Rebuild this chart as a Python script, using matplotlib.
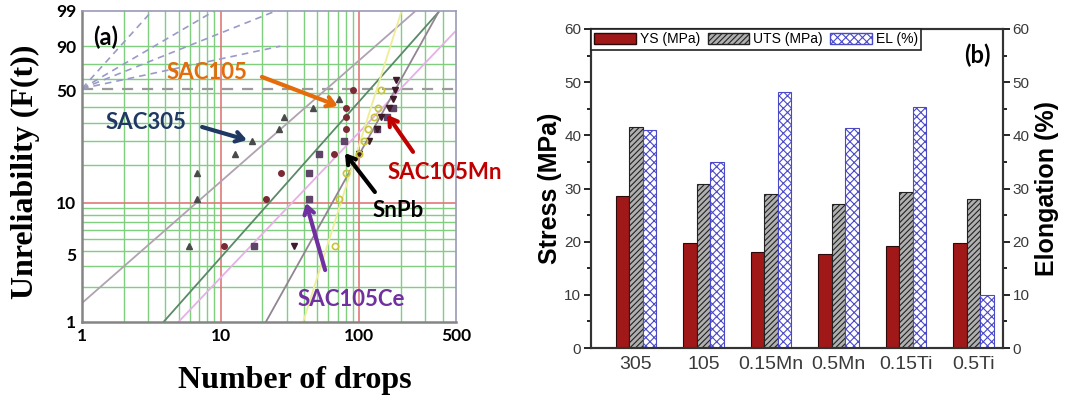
import numpy as np
import matplotlib.pyplot as plt
from matplotlib.patches import Patch

# ---- (a) drop test, Weibull plot ----
sac305_x = [5.9, 6.8, 6.8, 12.8, 16.8, 26.3, 28.6, 46.4, 71.6]
sac305_F = [4.4, 10.7, 17.2, 24.0, 29.8, 36.1, 43.3, 49.3, 55.5]

sac105_x = [10.5, 21.2, 27.2, 65.9, 78, 80, 80, 81, 90]
sac105_F = [4.4, 10.7, 17.2, 24.0, 29.8, 36.1, 43.3, 49.3, 62.2]

sac105ce_x = [17.4, 43.4, 43.4, 51.3, 78, 135, 160, 176]
sac105ce_F = [4.4, 10.7, 17.2, 24.0, 29.8, 36.1, 43.3, 49.3]

sac105mn_x = [33.8, 100, 118, 135, 144, 165, 176, 180, 185]
sac105mn_F = [4.4, 24.0, 29.8, 36.1, 43.3, 49.3, 55.5, 62.2, 69.2]

snpb_x = [67, 72, 80, 100, 109, 116, 128, 137, 144]
snpb_F = [4.4, 10.7, 17.2, 24.0, 29.8, 36.1, 43.3, 49.3, 62.2]

# fitted lines, end points (drops, F%)
fit_lines = {
    'L1': ([1, 250], [1.45, 98.9], '#b0a2b0'),
    'L2': ([3.87, 374], [1.0, 98.9], '#5a8a68'),
    'L3': ([4.96, 488], [1.0, 95.2], '#e6b0e6'),
    'L4': ([21.2, 374], [1.0, 98.9], '#938493'),
    'L5': ([39.4, 201], [1.0, 98.9], '#eded9a'),
}
fan_x = [3.2, 9, 25, 27]
fan_F = [99, 99, 99, 90]

# ---- (b) tensile properties ----
alloys = ['305', '105', '0.15Mn', '0.5Mn', '0.15Ti', '0.5Ti']
ys = [28.6, 19.7, 18.1, 17.6, 19.2, 19.7]
uts = [41.6, 30.8, 29.0, 27.1, 29.4, 28.0]
el = [41.0, 34.9, 48.2, 41.3, 45.4, 10.0]

plt.rcParams['hatch.linewidth'] = 0.8


def weib(F):
    F = np.clip(np.asarray(F, dtype=float), 1e-6, 100 - 1e-6)
    return np.log(-np.log(1 - F / 100.0))


def weib_inv(w):
    return 100.0 * (1 - np.exp(-np.exp(w)))


fig = plt.figure(figsize=(10.71, 3.98), dpi=100)

# ================= panel (a) =================
ax = fig.add_axes([0.0766, 0.191, 0.3492, 0.7814])
ax.set_xscale('log')
ax.set_yscale('function', functions=(weib, weib_inv))
ax.set_xlim(1, 500)
ax.set_ylim(1, 99)

grid_x = [2, 3, 4, 5, 6, 7, 8, 9, 20, 30, 40, 50, 60, 70, 80, 90, 200, 300, 400]
grid_F = [2, 3, 4, 5, 6, 7, 8, 9, 20, 30, 40, 50, 60, 70, 80, 90]
for gx in grid_x:
    ax.axvline(gx, color='#7fcf7f', lw=1.0, zorder=0)
for gy in grid_F:
    ax.axhline(gy, color='#7fcf7f', lw=1.0, zorder=0)
for gx in [10, 100]:
    ax.axvline(gx, color='#e07878', lw=1.2, zorder=0)
ax.axhline(10, color='#e07878', lw=1.2, zorder=0)

ax.axhline(63.2, color='#9a9a9a', lw=1.6, ls=(0, (5, 4)), zorder=1)
for fx, fF in zip(fan_x, fan_F):
    ax.plot([1, fx], [63.2, fF], color='#9a9ac8', lw=1.2, ls=(0, (4, 3)), zorder=1)

for xs, Fs, c in fit_lines.values():
    ax.plot(xs, Fs, color=c, lw=1.3, zorder=2)

ax.plot(sac305_x, sac305_F, '^', color='#4a4a4a', ms=4.5, zorder=3)
ax.plot(sac105_x, sac105_F, 'o', color='#7b2a35', ms=4, zorder=3)
ax.plot(sac105ce_x, sac105ce_F, 's', color='#5e4466', ms=4, zorder=3)
ax.plot(sac105mn_x, sac105mn_F, 'v', color='#3e1a2a', ms=4.5, zorder=3)
ax.plot(snpb_x, snpb_F, 'o', mfc='none', mec='#c8c43a', mew=1.2, ms=4.5, zorder=3)

ax.set_xticks([1, 10, 100, 500])
ax.set_xticklabels(['1', '10', '100', '500'])
ax.xaxis.set_minor_locator(plt.NullLocator())
# y labels where the figure prints them
ax.set_yticks([1, 3.7, 10, 62, 90, 99])
ax.set_yticklabels(['1', '5', '10', '50', '90', '99'])
ax.yaxis.set_minor_locator(plt.NullLocator())
ax.tick_params(length=0, pad=4)
for lab in ax.get_xticklabels() + ax.get_yticklabels():
    lab.set_fontfamily('Lato')
    lab.set_fontweight('bold')
    lab.set_fontsize(12.5)
for s in ['left', 'bottom']:
    ax.spines[s].set_color('#858585')
    ax.spines[s].set_linewidth(1.8)
for s in ['top', 'right']:
    ax.spines[s].set_color('#9a9ab8')
    ax.spines[s].set_linewidth(1.2)

fig.text(0.0235, 0.568, 'Unreliability (F(t))', rotation=90, ha='center', va='center',
         family='Liberation Serif', weight='bold', fontsize=23)
fig.text(0.275, 0.045, 'Number of drops', ha='center', va='center',
         family='Liberation Serif', weight='bold', fontsize=23)

ax.text(0.029, 0.916, '(a)', transform=ax.transAxes, family='Lato', weight='bold',
        fontsize=17, va='center', ha='left')

notes = [
    ('SAC105', '#e46c0a', (0.225, 0.802), (0.481, 0.788), (0.684, 0.695)),
    ('SAC305', '#1f3864', (0.064, 0.643), (0.321, 0.627), (0.441, 0.585)),
    ('SAC105Mn', '#c00000', (0.816, 0.482), (0.885, 0.547), (0.816, 0.666)),
    ('SnPb', '#000000', (0.778, 0.357), (0.783, 0.418), (0.703, 0.543)),
    ('SAC105Ce', '#7030a0', (0.575, 0.071), (0.650, 0.167), (0.599, 0.383)),
]
for label, col, tpos, tail, tip in notes:
    ax.text(tpos[0], tpos[1], label, transform=ax.transAxes, color=col,
            family='Lato', weight='bold', fontsize=16, va='center', ha='left',
            clip_on=False, zorder=6)
    ax.annotate('', xy=tip, xycoords='axes fraction', xytext=tail,
                textcoords='axes fraction', zorder=6,
                arrowprops=dict(arrowstyle='->, head_length=0.55, head_width=0.35',
                                color=col, lw=3, shrinkA=0, shrinkB=0))

# ================= panel (b) =================
axb = fig.add_axes([591 / 1071, 50 / 398, 412 / 1071, 319 / 398])
axr = axb.twinx()
pos = np.arange(len(alloys))
w = 0.2
b1 = axb.bar(pos - w, ys, w, color='#a01818', edgecolor='#2a0a0a', lw=0.8)
b2 = axb.bar(pos, uts, w, color='#b0b0b0', edgecolor='#222222', hatch='//////', lw=0.8)
b3 = axr.bar(pos + w, el, w, color='white', edgecolor='#4a4ac8', hatch='xxxx', lw=0.8)

for a in (axb, axr):
    a.set_xlim(-0.667, 5.437)
    a.set_ylim(0, 60)
    a.set_yticks(np.arange(0, 61, 10))
    a.set_yticks(np.arange(5, 60, 10), minor=True)
    a.tick_params(axis='y', which='major', direction='out', length=5, width=1.2,
                  labelsize=11, labelcolor='#3a3a3a', pad=2)
    a.tick_params(axis='y', which='minor', direction='out', length=3, width=1.2)
    for s in a.spines.values():
        s.set_color('#333333')
        s.set_linewidth(1.5)
    for lab in a.get_yticklabels():
        lab.set_fontfamily('Liberation Sans')

axb.set_xticks(pos)
axb.set_xticklabels(alloys, fontsize=14, color='#3a3a3a', family='Liberation Sans')
axb.tick_params(axis='x', length=0, pad=6)

axb.set_ylabel('Stress (MPa)', fontsize=18, weight='bold', family='Liberation Sans',
               labelpad=2)
axr.set_ylabel('Elongation (%)', fontsize=18, weight='bold', family='Liberation Sans',
               labelpad=4)

handles = [Patch(facecolor='#a01818', edgecolor='#2a0a0a'),
           Patch(facecolor='#b0b0b0', edgecolor='#222222', hatch='//////'),
           Patch(facecolor='white', edgecolor='#4a4ac8', hatch='xxxx')]
leg = axr.legend(handles, ['YS (MPa)', 'UTS (MPa)', 'EL (%)'], ncol=3, loc='upper left',
                 bbox_to_anchor=(0.0, 1.0), borderaxespad=0.0, fancybox=False,
                 framealpha=1, edgecolor='#222222', handlelength=3.0,
                 handleheight=0.9, handletextpad=0.3, columnspacing=0.5, borderpad=0.25,
                 prop={'family': 'Liberation Sans', 'size': 10})
leg.get_frame().set_linewidth(1.2)

axr.text(0.939, 0.918, '(b)', transform=axb.transAxes, family='Lato', weight='bold',
         fontsize=17, ha='center', va='center')

fig.savefig('out.png', dpi=100)
